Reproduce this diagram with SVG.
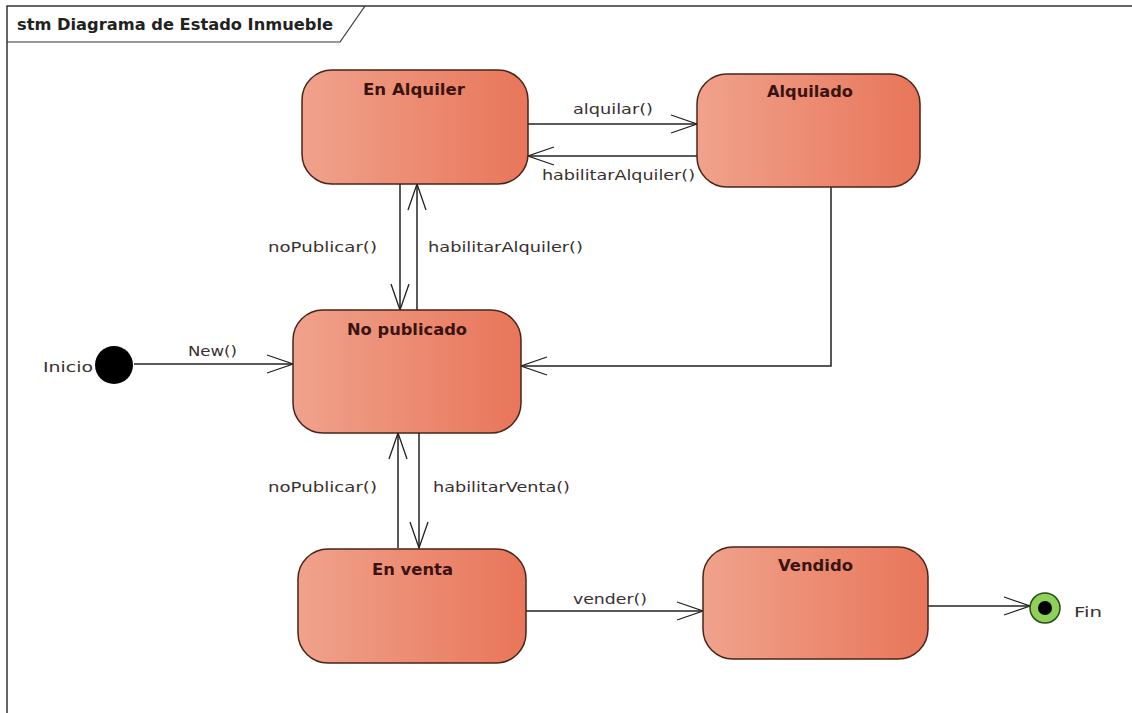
<svg xmlns="http://www.w3.org/2000/svg" width="1132" height="713" viewBox="0 0 1132 713">
<style>
.st{stroke:#4a2418;stroke-width:1.5;fill:url(#g)}
.t{font-family:"DejaVu Sans","Liberation Sans",Arial,sans-serif;font-size:14px;fill:#3a3030}
.b{font-family:"DejaVu Sans","Liberation Sans",Arial,sans-serif;font-size:15px;font-weight:bold;fill:#3a1410}
.c{stroke:#222;stroke-width:1.5;fill:none}
</style>
<defs>
<linearGradient id="g" x1="0" y1="0" x2="1" y2="0">
<stop offset="0" stop-color="#f0a28c"/>
<stop offset="1" stop-color="#e8765a"/>
</linearGradient>
<marker id="a" markerWidth="30" markerHeight="22" refX="27" refY="10" orient="auto" markerUnits="userSpaceOnUse">
<path d="M1,1 L27,10 L1,19" fill="none" stroke="#222" stroke-width="1.3"/>
</marker>
</defs>
<rect width="1132" height="713" fill="#fff"/>
<g id="frame">
<path d="M7,713 V6 H1132" fill="none" stroke="#333" stroke-width="1.5"/>
<path d="M7,42 H340 L365,6" fill="none" stroke="#333" stroke-width="1.2"/>
<text x="17" y="30" textLength="316" lengthAdjust="spacingAndGlyphs" style="font-family:'DejaVu Sans','Liberation Sans',Arial,sans-serif;font-size:15px;font-weight:bold;fill:#222">stm Diagrama de Estado Inmueble</text>
</g>
<g id="connectors">
<line class="c" x1="528" y1="124" x2="697" y2="124" marker-end="url(#a)"/>
<line class="c" x1="697" y1="156" x2="528" y2="156" marker-end="url(#a)"/>
<line class="c" x1="400" y1="184" x2="400" y2="310" marker-end="url(#a)"/>
<line class="c" x1="417" y1="310" x2="417" y2="184" marker-end="url(#a)"/>
<polyline class="c" points="831,187 831,366 521,366" marker-end="url(#a)"/>
<line class="c" x1="134" y1="364" x2="293" y2="364" marker-end="url(#a)"/>
<line class="c" x1="398" y1="548" x2="398" y2="433" marker-end="url(#a)"/>
<line class="c" x1="419" y1="433" x2="419" y2="548" marker-end="url(#a)"/>
<line class="c" x1="526" y1="611" x2="703" y2="611" marker-end="url(#a)"/>
<line class="c" x1="928" y1="606" x2="1030" y2="606" marker-end="url(#a)"/>
<text class="t" x="573" y="114" textLength="80" lengthAdjust="spacingAndGlyphs">alquilar()</text>
<text class="t" x="542" y="180" textLength="153" lengthAdjust="spacingAndGlyphs">habilitarAlquiler()</text>
<text class="t" x="268" y="252" textLength="109" lengthAdjust="spacingAndGlyphs">noPublicar()</text>
<text class="t" x="428" y="252" textLength="155" lengthAdjust="spacingAndGlyphs">habilitarAlquiler()</text>
<text class="t" x="188" y="356" textLength="49" lengthAdjust="spacingAndGlyphs">New()</text>
<text class="t" x="268" y="492" textLength="109" lengthAdjust="spacingAndGlyphs">noPublicar()</text>
<text class="t" x="433" y="492" textLength="137" lengthAdjust="spacingAndGlyphs">habilitarVenta()</text>
<text class="t" x="573" y="604" textLength="74" lengthAdjust="spacingAndGlyphs">vender()</text>
</g>
<g id="inicio">
<circle cx="114" cy="365" r="19" fill="#000"/>
<text class="t" x="43" y="372" textLength="50" lengthAdjust="spacingAndGlyphs">Inicio</text>
</g>
<g id="en-alquiler">
<rect class="st" x="302" y="70" width="226" height="114" rx="30"/>
<text class="b" x="363" y="95" textLength="102" lengthAdjust="spacingAndGlyphs">En Alquiler</text>
</g>
<g id="alquilado">
<rect class="st" x="697" y="74" width="223" height="113" rx="30"/>
<text class="b" x="767" y="97" textLength="86" lengthAdjust="spacingAndGlyphs">Alquilado</text>
</g>
<g id="no-publicado">
<rect class="st" x="293" y="310" width="228" height="123" rx="30"/>
<text class="b" x="347" y="335" textLength="120" lengthAdjust="spacingAndGlyphs">No publicado</text>
</g>
<g id="en-venta">
<rect class="st" x="298" y="549" width="228" height="114" rx="30"/>
<text class="b" x="372" y="575" textLength="81" lengthAdjust="spacingAndGlyphs">En venta</text>
</g>
<g id="vendido">
<rect class="st" x="703" y="547" width="225" height="112" rx="30"/>
<text class="b" x="778" y="571" textLength="75" lengthAdjust="spacingAndGlyphs">Vendido</text>
</g>
<g id="fin">
<circle cx="1045" cy="608" r="15" fill="#8fd05a" stroke="#2a4a1a" stroke-width="1.5"/>
<circle cx="1045" cy="608" r="7" fill="#000"/>
<text class="t" x="1074" y="617" textLength="28" lengthAdjust="spacingAndGlyphs">Fin</text>
</g>
</svg>
